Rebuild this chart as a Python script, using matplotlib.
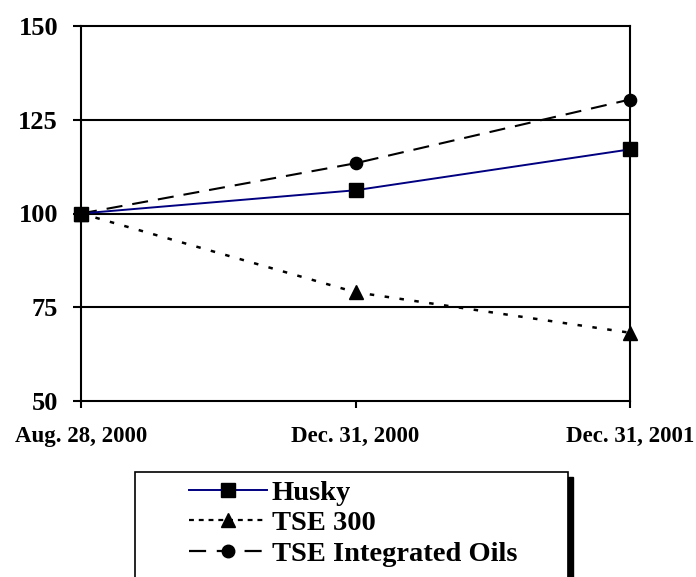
import matplotlib.pyplot as plt
from matplotlib.lines import Line2D
from matplotlib.patches import Rectangle

plt.rcParams['font.family'] = ['Liberation Serif', 'DejaVu Serif']
plt.rcParams['font.weight'] = 'bold'

dates = ["Aug. 28, 2000", "Dec. 31, 2000", "Dec. 31, 2001"]
husky = [100, 106.2, 117.1]
tse300 = [100, 79.0, 68.2]
tse_oils = [100, 113.4, 130.4]
yticks = [50, 75, 100, 125, 150]
labels = ['Husky', 'TSE 300', 'TSE Integrated Oils']

W, H = 696, 577
fig = plt.figure(figsize=(W / 100, H / 100), dpi=100)
ax = fig.add_axes([81 / W, 1 - 401 / H, (630 - 81) / W, (401 - 26) / H])

x = range(len(dates))

# dash patterns (in units of line width)
dot = (0, (1.8, 4.2))
dash = (0, (7.7, 4.8))
dot_leg = (0, (2.2, 2.2))

# horizontal gridlines
for y in yticks[1:-1]:
    ax.axhline(y, color='black', lw=1.5, zorder=1)

ax.plot(x, tse_oils, color='black', lw=1.5, ls=dash, marker='o', ms=8.8,
        mfc='black', mec='black', zorder=3, clip_on=False)
ax.plot(x, tse300, color='black', lw=1.8, ls=dot, marker='^', ms=9.5,
        mfc='black', mec='black', zorder=3, clip_on=False)
ax.plot(x, husky, color='#000080', lw=1.4, marker='s', ms=10,
        mfc='black', mec='black', zorder=4, clip_on=False)

ax.set_xlim(0, len(dates) - 1)
ax.set_ylim(50, 150)
ax.set_yticks(yticks)
ax.set_xticks(list(x))
ax.set_xticklabels(dates, fontsize=16.5, fontweight='bold')
ax.set_yticklabels([str(v) for v in yticks], fontsize=19, fontweight='bold')
ax.tick_params(axis='y', direction='out', length=6, width=1.5, pad=10.5)
ax.tick_params(axis='x', direction='out', length=5, width=1.5, pad=13)
for s in ax.spines.values():
    s.set_linewidth(1.5)

# legend box with a shadow on the right
fig.patches.append(Rectangle((568 / W, 0), 5 / W, 1 - 477 / H,
                             transform=fig.transFigure, color='black', zorder=5))
fig.patches.append(Rectangle((135 / W, -0.05), (568 - 135) / W, 0.05 + 1 - 472 / H,
                             transform=fig.transFigure, fill=False,
                             edgecolor='black', lw=1.2, zorder=6))

handles = [
    Line2D([], [], color='#000080', lw=1.4, marker='s', ms=10, mfc='black', mec='black'),
    Line2D([], [], color='black', lw=1.6, ls=dot_leg, marker='^', ms=10, mfc='black', mec='black'),
    Line2D([], [], color='black', lw=1.6, ls=dash, marker='o', ms=9, mfc='black', mec='black'),
]
leg = fig.legend(handles, labels, loc='upper left',
                 bbox_to_anchor=(183 / W, 1 - 474 / H),
                 prop={'family': 'Liberation Serif', 'weight': 'bold', 'size': 20.5},
                 frameon=False, handlelength=2.75, handletextpad=0.17,
                 labelspacing=0.16, borderpad=0.2, borderaxespad=0)

fig.savefig('out.png', dpi=100)
